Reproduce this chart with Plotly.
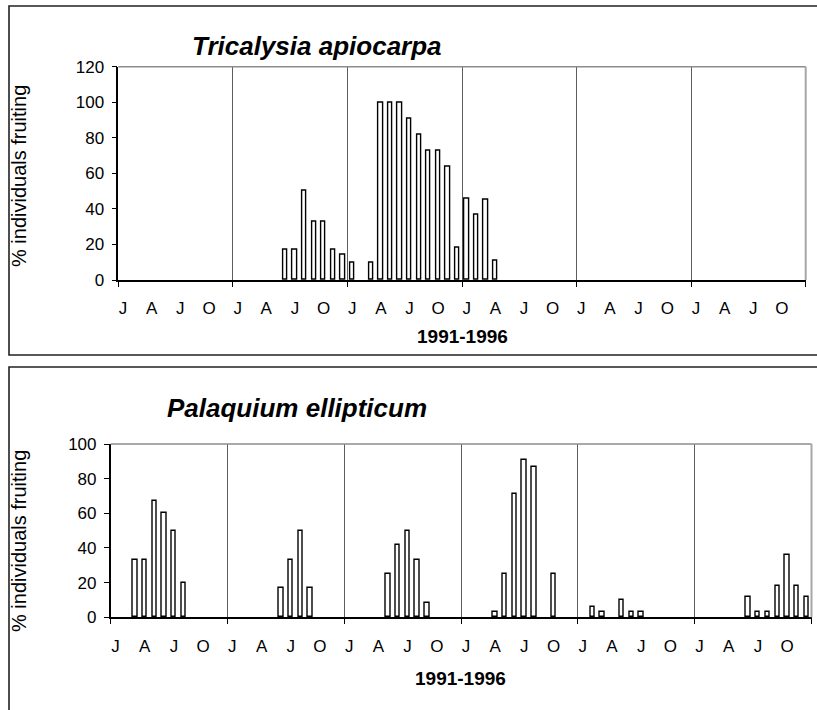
import plotly.graph_objects as go

FONT = "Arial, Liberation Sans, sans-serif"

# 72 monthly categories, Jan 1991 .. Dec 1996
months = list(range(72))
month_labels = ["J", "A", "J", "O"]          # Jan, Apr, Jul, Oct of each year
label_months = [0, 3, 6, 9]
x_title = "1991-1996"
y_title = "% individuals fruiting"

# % individuals fruiting per month (1991..1996, 12 values per year)
tricalysia = (
    [0, 0, 0, 0, 0, 0, 0, 0, 0, 0, 0, 0] +
    [0, 0, 0, 0, 0, 17, 17, 50, 33, 33, 17, 14] +
    [10, 0, 10, 100, 100, 100, 91, 82, 73, 73, 64, 18] +
    [46, 37, 45, 11, 0, 0, 0, 0, 0, 0, 0, 0] +
    [0, 0, 0, 0, 0, 0, 0, 0, 0, 0, 0, 0] +
    [0, 0, 0, 0, 0, 0, 0, 0, 0, 0, 0, 0]
)
palaquium = (
    [0, 0, 33, 33, 67, 60, 50, 20, 0, 0, 0, 0] +
    [0, 0, 0, 0, 0, 17, 33, 50, 17, 0, 0, 0] +
    [0, 0, 0, 0, 25, 42, 50, 33, 8, 0, 0, 0] +
    [0, 0, 0, 3, 25, 71, 91, 87, 0, 25, 0, 0] +
    [0, 6, 3, 0, 10, 3, 3, 0, 0, 0, 0, 0] +
    [0, 0, 0, 0, 0, 12, 3, 3, 18, 36, 18, 12]
)
species = ["Tricalysia apiocarpa", "Palaquium ellipticum"]

W, H = 817, 710
tickvals = [12 * y + m for y in range(6) for m in label_months]
ticktext = [month_labels[i] for y in range(6) for i in range(4)]


def nz(vals):
    # zero months are drawn as no bar at all
    return [v if v > 0 else None for v in vals]


fig = go.Figure()
bar_style = dict(color="white", line=dict(color="black", width=1.4))
fig.add_trace(go.Bar(x=months, y=nz(tricalysia), xaxis="x", yaxis="y", width=0.45,
                     marker=bar_style, showlegend=False))
fig.add_trace(go.Bar(x=months, y=nz(palaquium), xaxis="x2", yaxis="y2", width=0.45,
                     marker=bar_style, showlegend=False))


def xaxis(domain, anchor):
    return dict(domain=domain, anchor=anchor, range=[-0.5, 71.5],
                tickmode="array", tickvals=tickvals, ticktext=ticktext,
                ticks="", showgrid=False, zeroline=False,
                showline=True, linecolor="black", linewidth=1.6,
                tickfont=dict(size=17, family=FONT, color="black"),
                ticklabelstandoff=12, automargin=False,
                minor=dict(tickmode="linear", tick0=-0.5, dtick=12,
                           ticks="outside", ticklen=5, tickcolor="black",
                           tickwidth=1, showgrid=True, gridcolor="#5e5e5e",
                           gridwidth=1),
                fixedrange=True)


def yaxis(domain, anchor, top):
    return dict(domain=domain, anchor=anchor, range=[0, top],
                tickmode="linear", tick0=0, dtick=20,
                ticks="outside", ticklen=5, tickcolor="black", tickwidth=1,
                showline=True, linecolor="black", linewidth=1.6,
                showgrid=False, zeroline=False, automargin=False,
                tickfont=dict(size=17, family=FONT, color="black"),
                ticklabelstandoff=4, fixedrange=True)


xd1 = [118.3 / W, 805.7 / W]
yd1 = [1 - 280 / H, 1 - 66.7 / H]
xd2 = [110.7 / W, 811.5 / W]
yd2 = [1 - 617.3 / H, 1 - 444 / H]

fig.update_layout(
    width=W, height=H,
    margin=dict(l=0, r=0, t=0, b=0, pad=0, autoexpand=False),
    paper_bgcolor="white", plot_bgcolor="white",
    font=dict(family=FONT, color="black"),
    xaxis=xaxis(xd1, "y"), yaxis=yaxis(yd1, "x", 120),
    xaxis2=xaxis(xd2, "y2"), yaxis2=yaxis(yd2, "x2", 100),
    bargap=0,
)

shapes = []
# panel frames
shapes.append(dict(type="rect", xref="paper", yref="paper",
                   x0=9 / W, x1=1.05, y0=1 - 355 / H, y1=1 - 6 / H,
                   line=dict(color="#222222", width=1.6)))
shapes.append(dict(type="rect", xref="paper", yref="paper",
                   x0=9 / W, x1=1.05, y0=-0.05, y1=1 - 367 / H,
                   line=dict(color="#222222", width=1.6)))
# plot-area top and right borders (grey)
for xr, yr in (("x", "y"), ("x2", "y2")):
    shapes.append(dict(type="line", xref=xr + " domain", yref=yr + " domain",
                       x0=0, x1=1, y0=1, y1=1,
                       line=dict(color="#8c8c8c", width=1.5)))
    shapes.append(dict(type="line", xref=xr + " domain", yref=yr + " domain",
                       x0=1, x1=1, y0=0, y1=1,
                       line=dict(color="#a6a6a6", width=2)))
fig.update_layout(shapes=shapes)

ann = []
ann.append(dict(text="<b><i>%s</i></b>" % species[0], xref="paper", yref="paper",
                x=190 / W, y=1 - 46 / H, xanchor="left", yanchor="middle",
                showarrow=False, font=dict(size=26, family=FONT)))
ann.append(dict(text="<b><i>%s</i></b>" % species[1], xref="paper", yref="paper",
                x=165 / W, y=1 - 408 / H, xanchor="left", yanchor="middle",
                showarrow=False, font=dict(size=26, family=FONT)))
for cy in (176, 541):
    ann.append(dict(text=y_title, xref="paper", yref="paper",
                    x=19 / W, y=1 - cy / H, xanchor="center", yanchor="middle",
                    textangle=-90, showarrow=False, font=dict(size=20, family=FONT)))
for cx, cy in ((462, 336), (461, 678)):
    ann.append(dict(text="<b>%s</b>" % x_title, xref="paper", yref="paper",
                    x=cx / W, y=1 - cy / H, xanchor="center", yanchor="middle",
                    showarrow=False, font=dict(size=19, family=FONT)))
fig.update_layout(annotations=ann)

fig.write_html("out.html")
